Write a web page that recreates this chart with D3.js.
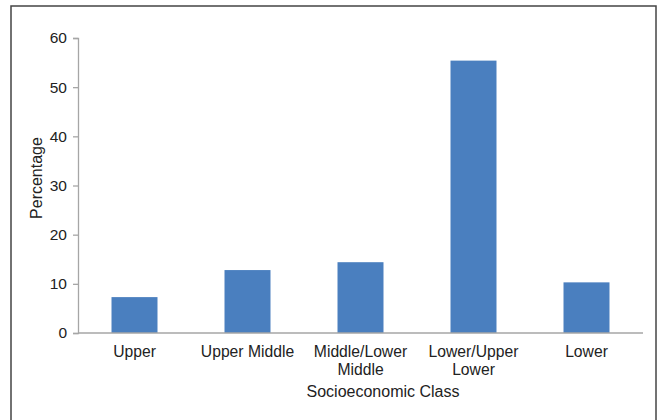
<!DOCTYPE html>
<html>
<head>
<meta charset="utf-8">
<script src="https://cdn.jsdelivr.net/npm/d3@7"></script>
<style>
	body { margin: 0; background: white; }
	text { font-family: "Liberation Sans", Arial, sans-serif; fill: #222; }
</style>
</head>
<body>
<div id="chart"></div>
<script>
let categories = ["Upper", "Upper Middle", "Middle/Lower Middle", "Lower/Upper Lower", "Lower"];
let labelLines = [["Upper"], ["Upper Middle"], ["Middle/Lower", "Middle"], ["Lower/Upper", "Lower"], ["Lower"]];
let values = [7.3, 12.8, 14.4, 55.4, 10.3];
let yTicks = [0, 10, 20, 30, 40, 50, 60];

let width = 657;
let height = 420;

let margin = {
	top: 38,
	right: 14,
	bottom: 87,
	left: 78
};

let svg = d3.select("#chart")
			.append("svg")
			.attr("width", width)
			.attr("height", height);

// outer frame
svg.append("rect")
	.attr("x", 11)
	.attr("y", 6)
	.attr("width", 645)
	.attr("height", 430)
	.attr("fill", "white")
	.attr("stroke", "#444")
	.attr("stroke-width", 1.5);

let xScale = d3.scaleBand()
				.domain(categories)
				.range([margin.left, width - margin.right])
				.paddingInner(0.593)
				.paddingOuter(0.2965);

let yScale = d3.scaleLinear()
				.domain([0, 60])
				.range([height - margin.bottom, margin.top]);

// bars
svg.selectAll(".bar")
	.data(values)
	.enter()
	.append("rect")
	.attr("class", "bar")
	.attr("x", (d, i) => xScale(categories[i]))
	.attr("y", d => yScale(d))
	.attr("width", xScale.bandwidth())
	.attr("height", d => yScale(0) - yScale(d))
	.attr("fill", "#4a7fbf");

// y axis
let yAxis = svg.append("g")
	.attr("transform", `translate(${margin.left},0)`)
	.call(d3.axisLeft(yScale).tickValues(yTicks).tickSize(5).tickPadding(6));
yAxis.attr("font-size", null).attr("font-family", null);
yAxis.select(".domain").attr("stroke", "#a6a6a6").attr("stroke-width", 1.3);
yAxis.selectAll(".tick line").attr("stroke", "#a6a6a6").attr("stroke-width", 1.3);
yAxis.selectAll(".tick text")
	.style("font-size", "15.5px")
	.attr("fill", "#222");

// x axis line
svg.append("line")
	.attr("x1", margin.left)
	.attr("x2", width - margin.right)
	.attr("y1", yScale(0))
	.attr("y2", yScale(0))
	.attr("stroke", "#a6a6a6")
	.attr("stroke-width", 1.5);

// category labels
let catLabels = svg.selectAll(".cat")
	.data(labelLines)
	.enter()
	.append("text")
	.attr("class", "cat")
	.attr("text-anchor", "middle")
	.style("font-size", "15.7px")
	.attr("transform", (d, i) => `translate(${xScale(categories[i]) + xScale.bandwidth() / 2},${yScale(0) + 24})`);

catLabels.selectAll("tspan")
	.data(d => d)
	.enter()
	.append("tspan")
	.attr("x", 0)
	.attr("dy", (d, i) => i === 0 ? 0 : 18)
	.text(d => d);

// axis titles
svg.append("text")
	.attr("x", 383)
	.attr("y", 397)
	.attr("text-anchor", "middle")
	.style("font-size", "16px")
	.text("Socioeconomic Class");

svg.append("text")
	.attr("transform", "translate(42,178) rotate(-90)")
	.attr("text-anchor", "middle")
	.style("font-size", "16px")
	.text("Percentage");
</script>
</body>
</html>
